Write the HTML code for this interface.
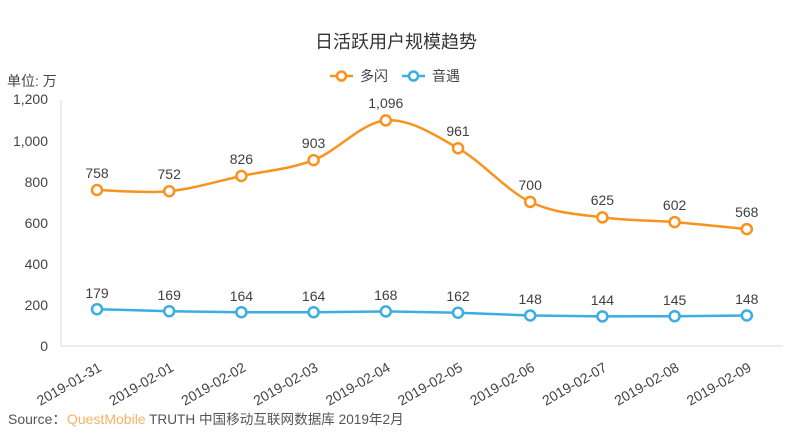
<!DOCTYPE html>
<html>
<head>
<meta charset="utf-8">
<style>
  html,body{margin:0;padding:0;background:#fff;}
  svg{display:block;}
  text{font-family:"Liberation Sans","Noto Sans CJK SC",sans-serif;}
</style>
</head>
<body>
<svg width="800" height="433" viewBox="0 0 800 433" xmlns="http://www.w3.org/2000/svg">
  <rect width="800" height="433" fill="#fff"/>
  <!-- Title -->
  <text x="396" y="48" text-anchor="middle" font-size="18" fill="#333">日活跃用户规模趋势</text>

  <!-- Legend -->
  <line x1="330" y1="76" x2="353" y2="76" stroke="#F7931E" stroke-width="2.5"/>
  <circle cx="341.5" cy="76" r="4.5" fill="#fff" stroke="#F7931E" stroke-width="2.5"/>
  <text x="360" y="81" font-size="14" fill="#444">多闪</text>
  <line x1="402" y1="76" x2="425" y2="76" stroke="#3AAEE3" stroke-width="2.5"/>
  <circle cx="413.5" cy="76" r="4.5" fill="#fff" stroke="#3AAEE3" stroke-width="2.5"/>
  <text x="432" y="81" font-size="14" fill="#444">音遇</text>

  <!-- Unit -->
  <text x="7" y="86" font-size="14" fill="#444">单位: 万</text>

  <!-- Axes -->
  <line x1="61" y1="100" x2="61" y2="346" stroke="#e6e6e6" stroke-width="1.5"/>
  <line x1="61" y1="346" x2="783" y2="346" stroke="#e6e6e6" stroke-width="1.5"/>

  <!-- Y labels -->
  <g font-size="14" fill="#444" text-anchor="end">
    <text x="48" y="104">1,200</text>
    <text x="48" y="146">1,000</text>
    <text x="48" y="187">800</text>
    <text x="48" y="228">600</text>
    <text x="48" y="269">400</text>
    <text x="48" y="310">200</text>
    <text x="48" y="351">0</text>
  </g>

  <!-- X labels -->
  <g font-size="14" fill="#444" text-anchor="end">
    <text transform="translate(100,366) rotate(-30)" dy="0.35em">2019-01-31</text>
    <text transform="translate(172.2,366) rotate(-30)" dy="0.35em">2019-02-01</text>
    <text transform="translate(244.4,366) rotate(-30)" dy="0.35em">2019-02-02</text>
    <text transform="translate(316.6,366) rotate(-30)" dy="0.35em">2019-02-03</text>
    <text transform="translate(388.8,366) rotate(-30)" dy="0.35em">2019-02-04</text>
    <text transform="translate(461,366) rotate(-30)" dy="0.35em">2019-02-05</text>
    <text transform="translate(533.2,366) rotate(-30)" dy="0.35em">2019-02-06</text>
    <text transform="translate(605.4,366) rotate(-30)" dy="0.35em">2019-02-07</text>
    <text transform="translate(677.6,366) rotate(-30)" dy="0.35em">2019-02-08</text>
    <text transform="translate(749.8,366) rotate(-30)" dy="0.35em">2019-02-09</text>
  </g>

  <!-- Orange series -->
  <path fill="none" stroke="#F7931E" stroke-width="2.5" d="M97,190 C109.03,190.2 145.13,193.53 169.2,191.2 C193.27,188.87 217.33,181.18 241.4,176 C265.47,170.82 289.53,169.37 313.6,160.1 C337.67,150.83 361.73,122.38 385.8,120.4 C409.87,118.42 433.93,134.62 458,148.2 C482.07,161.78 506.13,190.37 530.2,201.9 C554.27,213.43 578.33,214.03 602.4,217.4 C626.47,220.77 650.53,220.15 674.6,222.1 C698.67,224.05 734.77,227.93 746.8,229.1"/>
  <g fill="#fff" stroke="#F7931E" stroke-width="2.5">
    <circle cx="97" cy="190" r="5"/>
    <circle cx="169.2" cy="191.2" r="5"/>
    <circle cx="241.4" cy="176" r="5"/>
    <circle cx="313.6" cy="160.1" r="5"/>
    <circle cx="385.8" cy="120.4" r="5"/>
    <circle cx="458" cy="148.2" r="5"/>
    <circle cx="530.2" cy="201.9" r="5"/>
    <circle cx="602.4" cy="217.4" r="5"/>
    <circle cx="674.6" cy="222.1" r="5"/>
    <circle cx="746.8" cy="229.1" r="5"/>
  </g>
  <g font-size="14" fill="#404040" text-anchor="middle">
    <text x="97" y="178">758</text>
    <text x="169.2" y="179">752</text>
    <text x="241.4" y="164">826</text>
    <text x="313.6" y="148">903</text>
    <text x="385.8" y="108">1,096</text>
    <text x="458" y="136">961</text>
    <text x="530.2" y="190">700</text>
    <text x="602.4" y="205">625</text>
    <text x="674.6" y="210">602</text>
    <text x="746.8" y="217">568</text>
  </g>

  <!-- Blue series -->
  <polyline fill="none" stroke="#3AAEE3" stroke-width="2.5" points="97,309.2 169.2,311.2 241.4,312.2 313.6,312.2 385.8,311.4 458,312.7 530.2,315.5 602.4,316.4 674.6,316.2 746.8,315.5"/>
  <g fill="#fff" stroke="#3AAEE3" stroke-width="2.5">
    <circle cx="97" cy="309.2" r="5"/>
    <circle cx="169.2" cy="311.2" r="5"/>
    <circle cx="241.4" cy="312.2" r="5"/>
    <circle cx="313.6" cy="312.2" r="5"/>
    <circle cx="385.8" cy="311.4" r="5"/>
    <circle cx="458" cy="312.7" r="5"/>
    <circle cx="530.2" cy="315.5" r="5"/>
    <circle cx="602.4" cy="316.4" r="5"/>
    <circle cx="674.6" cy="316.2" r="5"/>
    <circle cx="746.8" cy="315.5" r="5"/>
  </g>
  <g font-size="14" fill="#404040" text-anchor="middle">
    <text x="97" y="298">179</text>
    <text x="169.2" y="300">169</text>
    <text x="241.4" y="301">164</text>
    <text x="313.6" y="301">164</text>
    <text x="385.8" y="300">168</text>
    <text x="458" y="301">162</text>
    <text x="530.2" y="304">148</text>
    <text x="602.4" y="305">144</text>
    <text x="674.6" y="305">145</text>
    <text x="746.8" y="304">148</text>
  </g>

  <!-- Source -->
  <text x="8" y="424" font-size="14" fill="#555">Source：<tspan x="67" fill="#F9B165">QuestMobile</tspan><tspan fill="#555" font-size="13.6"> TRUTH 中国移动互联网数据库 2019年2月</tspan></text>
</svg>
</body>
</html>
